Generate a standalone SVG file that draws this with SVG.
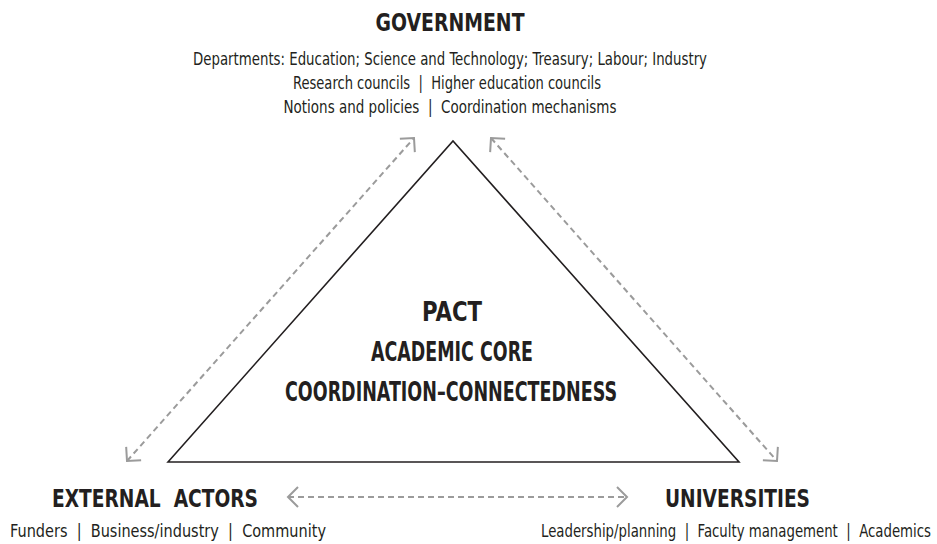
<svg xmlns="http://www.w3.org/2000/svg" width="937" height="544" viewBox="0 0 937 544">
  <style>
    .head { font-family: "DejaVu Sans Condensed", "Liberation Sans", sans-serif; font-weight: bold; font-size: 25px; fill: #231f20; }
    .body { font-family: "DejaVu Sans Condensed", "Liberation Sans", sans-serif; font-size: 18px; fill: #231f20; }
    .core { font-family: "DejaVu Sans Condensed", "Liberation Sans", sans-serif; font-weight: bold; font-size: 26px; fill: #231f20; }
    .link { fill: none; stroke: #9b9b9b; stroke-width: 2; stroke-dasharray: 6 4; }
    .tri { fill: none; stroke: #231f20; stroke-width: 1.6; stroke-linejoin: miter; }
  </style>
  <defs>
    <marker id="chev" markerUnits="userSpaceOnUse" viewBox="-12 -12 14 24" refX="0" refY="0" markerWidth="14" markerHeight="24" orient="auto-start-reverse" overflow="visible">
      <path d="M-10,-10 L0,0 L-10,10" fill="none" stroke="#9b9b9b" stroke-width="2" stroke-dasharray="none"/>
    </marker>
  </defs>

  <rect width="937" height="544" fill="#ffffff"/>

  <!-- central triangle -->
  <g id="core">
    <polygon class="tri" points="168,462 453,141 739,462"/>
    <text class="core" x="452" y="321" text-anchor="middle" textLength="60" lengthAdjust="spacingAndGlyphs">PACT</text>
    <text class="core" x="452" y="361" text-anchor="middle" textLength="162" lengthAdjust="spacingAndGlyphs">ACADEMIC CORE</text>
    <text class="core" x="451" y="401" text-anchor="middle" textLength="332" lengthAdjust="spacingAndGlyphs">COORDINATION–CONNECTEDNESS</text>
  </g>

  <!-- government node -->
  <g id="government">
    <text class="head" x="450" y="31" text-anchor="middle" textLength="149" lengthAdjust="spacingAndGlyphs">GOVERNMENT</text>
    <text class="body" x="450" y="65" text-anchor="middle" textLength="514" lengthAdjust="spacingAndGlyphs">Departments: Education; Science and Technology; Treasury; Labour; Industry</text>
    <text class="body" x="447" y="89" text-anchor="middle" textLength="308" lengthAdjust="spacingAndGlyphs">Research councils &#160;|&#160; Higher education councils</text>
    <text class="body" x="450" y="113" text-anchor="middle" textLength="333" lengthAdjust="spacingAndGlyphs">Notions and policies &#160;|&#160; Coordination mechanisms</text>
  </g>

  <!-- external actors node -->
  <g id="external-actors">
    <text class="head" x="52" y="507" textLength="206" lengthAdjust="spacingAndGlyphs">EXTERNAL&#160; ACTORS</text>
    <text class="body" x="10" y="537" textLength="316" lengthAdjust="spacingAndGlyphs">Funders &#160;|&#160; Business/industry &#160;|&#160; Community</text>
  </g>

  <!-- universities node -->
  <g id="universities">
    <text class="head" x="665" y="507" textLength="145" lengthAdjust="spacingAndGlyphs">UNIVERSITIES</text>
    <text class="body" x="931" y="537" text-anchor="end" textLength="390" lengthAdjust="spacingAndGlyphs">Leadership/planning &#160;|&#160; Faculty management &#160;|&#160; Academics</text>
  </g>

  <!-- two-way connectors between the three actors -->
  <g id="connectors">
    <line class="link" x1="127" y1="461" x2="414" y2="138" marker-start="url(#chev)" marker-end="url(#chev)"/>
    <line class="link" x1="491" y1="138" x2="777" y2="461" marker-start="url(#chev)" marker-end="url(#chev)"/>
    <line class="link" x1="288" y1="497" x2="627" y2="497" marker-start="url(#chev)" marker-end="url(#chev)"/>
  </g>
</svg>
